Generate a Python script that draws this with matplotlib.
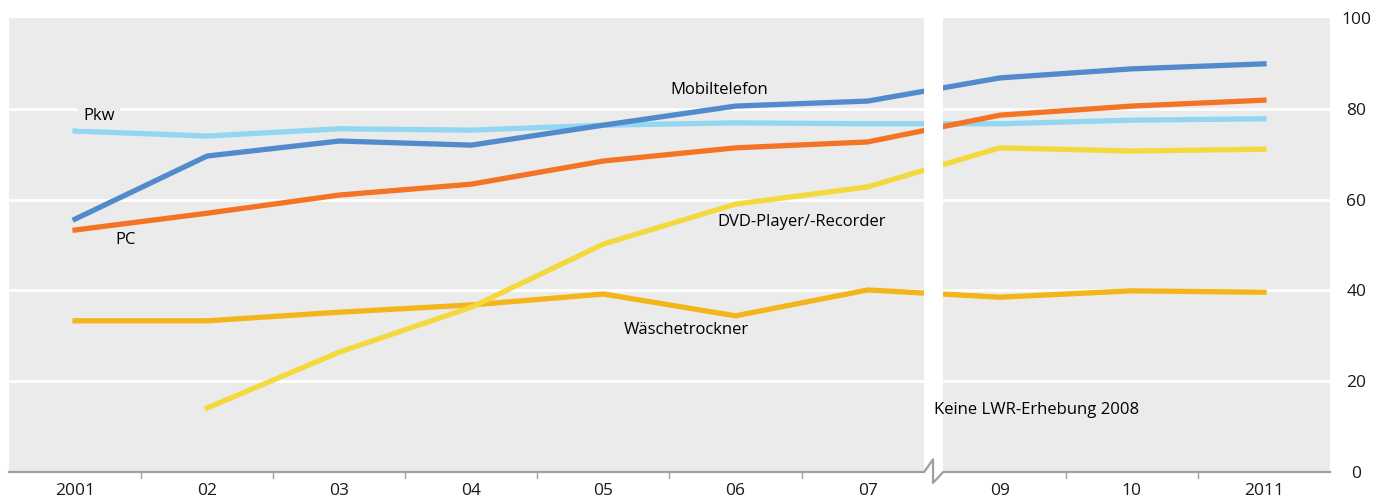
import matplotlib.pyplot as plt
from matplotlib.transforms import blended_transform_factory

plt.rcParams['font.family'] = ['Open Sans', 'DejaVu Sans']

years = ['2001', '02', '03', '04', '05', '06', '07', '09', '10', '2011']
mobil = [55.7, 69.6, 72.9, 72.0, 76.4, 80.6, 81.7, 86.8, 88.8, 89.9]
pkw = [75.1, 74.0, 75.6, 75.3, 76.4, 76.9, 76.7, 76.7, 77.5, 77.8]
pc = [53.3, 57.0, 61.0, 63.4, 68.5, 71.4, 72.7, 78.6, 80.6, 81.9]
dvd = [None, 14.1, 26.4, 36.3, 50.2, 59.0, 62.8, 71.4, 70.7, 71.1]
trockner = [33.3, 33.3, 35.2, 36.8, 39.2, 34.4, 40.1, 38.5, 39.9, 39.6]

x = list(range(len(years)))

fig = plt.figure(figsize=(13.87, 5.01), dpi=100)
ax = fig.add_axes([9 / 1387, 29 / 501, 1321 / 1387, 454 / 501])
ax.set_facecolor('#ebebeb')

for g in [20, 40, 60, 80]:
    ax.axhline(g, color='white', lw=2, zorder=1)

lw = 3.8
ax.plot(x, pkw, color='#92d6f1', lw=lw, zorder=3)
ax.plot(x, trockner, color='#f4b41c', lw=lw, zorder=3)
ax.plot(x[1:], dvd[1:], color='#f4d93e', lw=lw, zorder=3)
ax.plot(x, pc, color='#f37424', lw=lw, zorder=3)
ax.plot(x, mobil, color='#518bcb', lw=lw, zorder=3)

# Bruch fuer 2008 (keine Erhebung)
brk = 6.5
hw = 9.5 / 132
ax.axvspan(brk - hw, brk + hw, color='white', zorder=5, lw=0)

ax.set_xlim(-0.5, 9.5)
ax.set_ylim(0, 100)
for s in ['top', 'right', 'left', 'bottom']:
    ax.spines[s].set_visible(False)

tr = blended_transform_factory(ax.transData, ax.transAxes)
ax.plot([-0.5, brk - hw, brk - 0.005, brk - 0.005, brk + hw, 9.5],
        [0, 0, 0.028, -0.024, 0, 0], transform=tr, color='#a0a0a0',
        lw=1.6, clip_on=False, zorder=6)
for b in [0.5, 1.5, 2.5, 3.5, 4.5, 5.5, 7.5, 8.5]:
    ax.plot([b, b], [0, -0.013], transform=tr, color='#a0a0a0', lw=1,
            clip_on=False)

ax.set_xticks(x)
ax.set_xticklabels(years)
ax.tick_params(axis='x', length=0, pad=8, labelsize=12.5, colors='#1a1a1a')
ax.yaxis.tick_right()
ax.set_yticks([0, 20, 40, 60, 80, 100])
ax.tick_params(axis='y', length=0, pad=19, labelsize=12.5, colors='#1a1a1a')
for lab in ax.get_yticklabels():
    lab.set_horizontalalignment('center')

fs = 12
ax.text(0.18, 78.5, 'Pkw', fontsize=fs, ha='center', va='center', zorder=4,
        bbox=dict(facecolor='#ebebeb', edgecolor='none', pad=4))
ax.text(4.88, 84.2, 'Mobiltelefon', fontsize=fs, ha='center', va='center', zorder=4)
ax.text(0.38, 51.2, 'PC', fontsize=fs, ha='center', va='center', zorder=4)
ax.text(5.5, 55.0, 'DVD-Player/-Recorder', fontsize=fs, ha='center', va='center', zorder=4)
ax.text(4.63, 31.3, 'Wäschetrockner', fontsize=fs, ha='center', va='center', zorder=4)
ax.text(7.28, 13.7, 'Keine LWR-Erhebung 2008', fontsize=fs, ha='center', va='center', zorder=7)

fig.savefig('out.png', dpi=100)
